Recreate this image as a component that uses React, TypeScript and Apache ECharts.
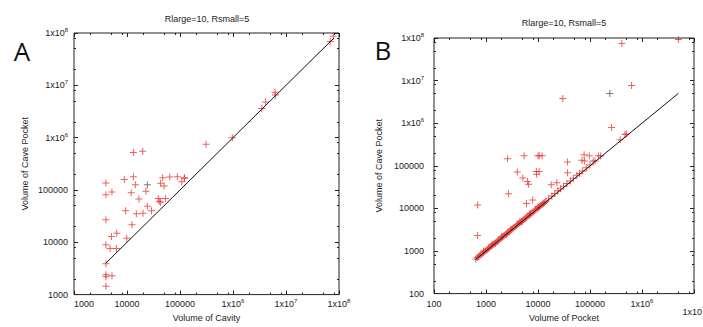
import React, { useEffect, useRef } from "react";
import * as echarts from "echarts";

// ---------- data ----------
const titleText = "Rlarge=10, Rsmall=5";
const panelLetters = ["A", "B"];
const axisNamesA = { x: "Volume of Cavity", y: "Volume of Cave Pocket" };
const axisNamesB = { x: "Volume of Pocket", y: "Volume of Cave Pocket" };

const aRedPoints: number[][] = [
  [78000000, 87000000], [68000000, 69000000], [6200000, 7400000], [6300000, 6500000],
  [4100000, 4800000], [3500000, 3600000], [970000, 1000000], [310000, 750000],
  [13200, 520000], [19800, 550000], [4000, 136000], [8900, 159000], [13200, 179000],
  [14400, 126000], [47000, 171000], [64000, 176000], [89000, 178000],
  [122000, 171000], [120000, 168000], [108000, 144000], [43000, 134000], [50000, 119000],
  [4000, 81000], [5200, 91000], [12000, 88000], [22800, 95000], [16800, 67000],
  [39000, 69000], [40700, 61000], [43000, 58000], [53000, 69000], [24200, 49000],
  [29000, 40000], [9400, 40000], [15000, 35000], [20000, 36000], [4000, 27000],
  [12400, 21700], [6400, 14900], [5100, 12900], [9900, 12000], [4000, 9000],
  [4800, 7600], [6300, 7600], [4000, 3900], [4000, 2400], [4000, 2200], [5200, 2300],
  [4000, 1440],
];
const aDarkPoints: number[][] = [[24200, 126000]];
const aFitLine: number[][] = [[4000, 4000], [80000000, 80000000]];

const bRedPoints: number[][] = [
  [5000000, 92000000], [410000, 74000000], [630000, 7700000], [30000, 3800000],
  [260000, 790000], [470000, 540000], [500000, 560000], [380000, 410000],
  [2600, 147000], [5400, 172000], [10000, 172000], [10600, 172000], [12000, 172000],
  [37000, 123000], [77000, 181000], [97000, 172000], [145000, 172000],
  [70000, 135000], [78000, 129000], [115000, 130000],
  [4000, 72000], [9300, 73000], [10500, 73000], [5100, 52000], [6300, 43000],
  [6600, 37000], [9400, 63000], [37000, 69000], [18000, 36000], [23000, 40000],
  [2700, 22000], [6000, 13000], [7900, 15800], [690, 12000], [690, 2300],
];
const bDarkPoints: number[][] = [[240000, 5000000]];
const bDiagonalPoints: number[][] = [
  [640, 650], [680, 700], [720, 730], [760, 790], [800, 820], [850, 870], [900, 930],
  [950, 980], [1000, 1040], [1060, 1090], [1120, 1150], [1180, 1220], [1250, 1290],
  [1320, 1360], [1400, 1440], [1480, 1520], [1560, 1610], [1650, 1700], [1750, 1800],
  [1850, 1900], [1950, 2010], [2060, 2120], [2180, 2250], [2300, 2380], [2440, 2500],
  [2580, 2650], [2730, 2800], [2890, 2970], [3060, 3140], [3240, 3330], [3430, 3520],
  [3630, 3730], [3840, 3950], [4060, 4180], [4300, 4420], [4550, 4680], [4820, 4950],
  [5100, 5240], [5400, 5550], [5720, 5880], [6050, 6220], [6400, 6590], [6780, 6970],
  [7180, 7380], [7600, 7820], [8050, 8280], [8520, 8770], [9020, 9280], [9550, 9830],
  [10100, 10400], [10700, 11000], [11300, 11700], [12000, 12400], [12700, 13100],
  [13400, 13800], [14200, 14700],
  [900, 1000], [1300, 1450], [2000, 2200], [3000, 3300], [4500, 5000], [7000, 7600],
  [10000, 11000], [1500, 1480], [2500, 2450], [5000, 4950],
  [16000, 16800], [18500, 19500], [21000, 22500], [24000, 26000], [27000, 29000],
  [31000, 33000], [36000, 38500], [42000, 44000], [48000, 51000], [56000, 60000],
  [63000, 66000], [72000, 76000], [85000, 90000], [100000, 105000], [125000, 130000],
  [160000, 170000],
];
const bFitLine: number[][] = [[620, 620], [5000000, 5000000]];

// axis ranges (decades)
const aXRange = [1000, 100000000];
const aYRange = [1000, 100000000];
const bXRange = [100, 10000000];
const bYRange = [100, 100000000];

// ---------- helpers ----------
const TXT = "#222";
const FONT = "Liberation Sans, Arial, sans-serif";
const PLUS = "path://M3,0H4V3H7V4H4V7H3V4H0V3H3Z";
const RED = "#e83a36";

function majorTicks(min: number, max: number) {
  const out: number[] = [];
  for (let e = Math.round(Math.log10(min)); e <= Math.round(Math.log10(max)); e++) out.push(Math.pow(10, e));
  return out;
}
function minorTicks(min: number, max: number) {
  const out: number[] = [];
  for (let e = Math.round(Math.log10(min)); e < Math.round(Math.log10(max)); e++) {
    [2, 5, 8].forEach((m) => out.push(m * Math.pow(10, e)));
  }
  return out;
}

function fmt(v: number) {
  const e = Math.round(Math.log10(v));
  if (e < 6) return "{b|" + Math.round(v) + "}";
  return "{b|1x10}{s|" + e + "}";
}
const rich = {
  b: { fontSize: 9, lineHeight: 12, color: TXT, fontFamily: FONT },
  s: { fontSize: 6, lineHeight: 6, verticalAlign: "top", color: TXT, fontFamily: FONT },
};
const richFill = {
  b: { fontSize: 9, lineHeight: 12, fill: TXT, fontFamily: FONT },
  s: { fontSize: 6, lineHeight: 6, verticalAlign: "top", fill: TXT, fontFamily: FONT },
};

function buildAxes(
  dim: "x" | "y",
  grid: number,
  range: number[],
  name: string,
  nameGap: number,
  labelMargin: number,
  alignMin?: string,
  dropMaxLabel?: boolean
) {
  const majors = majorTicks(range[0], range[1]);
  const minors = minorTicks(range[0], range[1]);
  const labelValues = dropMaxLabel ? majors.slice(0, -1) : majors;
  const base = {
    type: "log",
    logBase: 10,
    gridIndex: grid,
    min: range[0],
    max: range[1],
    splitLine: { show: false },
    axisLine: { show: false },
  };
  const mainPos = dim === "x" ? "bottom" : "left";
  const otherPos = dim === "x" ? "top" : "right";
  const main: any = {
    ...base,
    position: mainPos,
    name,
    nameLocation: "middle",
    nameGap,
    nameTextStyle: { fontSize: 9, color: TXT, fontFamily: FONT },
    axisTick: { show: true, inside: true, length: 4, lineStyle: { color: "#222" }, customValues: majors },
    axisLabel: {
      show: true,
      margin: labelMargin,
      customValues: labelValues,
      formatter: fmt,
      rich,
      showMinLabel: true,
      showMaxLabel: true,
      hideOverlap: false,
      ...(alignMin ? { alignMinLabel: alignMin } : {}),
    },
  };
  const mk = (pos: string, ticks: number[], len: number) => ({
    ...base,
    position: pos,
    axisTick: { show: true, inside: true, length: len, lineStyle: { color: "#222" }, customValues: ticks },
    axisLabel: { show: false },
  });
  return [main, mk(mainPos, minors, 2), mk(otherPos, majors, 4), mk(otherPos, minors, 2)];
}

function scatter(data: number[][], idx: number, color: string) {
  return {
    type: "scatter",
    xAxisIndex: idx,
    yAxisIndex: idx,
    data,
    symbol: PLUS,
    symbolSize: 7,
    itemStyle: { color },
    silent: true,
  };
}
function fit(data: number[][], idx: number) {
  return {
    type: "line",
    xAxisIndex: idx,
    yAxisIndex: idx,
    data,
    symbol: "none",
    lineStyle: { color: "#111", width: 1 },
    z: 5,
    silent: true,
  };
}

export default function App() {
  const ref = useRef<HTMLDivElement>(null);
  useEffect(() => {
    if (!ref.current) return;
    const chart = echarts.init(ref.current, undefined, { renderer: "svg" });
    const option: any = {
      animation: false,
      backgroundColor: "#fff",
      grid: [
        { left: 74, top: 33, width: 265, height: 266, show: true, borderColor: "#222", borderWidth: 1, backgroundColor: "transparent" },
        { left: 434, top: 38, width: 260, height: 264, show: true, borderColor: "#222", borderWidth: 1, backgroundColor: "transparent" },
      ],
      xAxis: [
        ...buildAxes("x", 0, aXRange, axisNamesA.x, 17, 3, "left"),
        ...buildAxes("x", 1, bXRange, axisNamesB.x, 17, 4, undefined, true),
      ],
      yAxis: [
        ...buildAxes("y", 0, aYRange, axisNamesA.y, 45, 6),
        ...buildAxes("y", 1, bYRange, axisNamesB.y, 51, 10),
      ],
      series: [
        scatter(aRedPoints, 0, RED),
        scatter(aDarkPoints, 0, "#555"),
        fit(aFitLine, 0),
        scatter(bDiagonalPoints, 4, RED),
        scatter(bRedPoints, 4, RED),
        scatter(bDarkPoints, 4, "#555"),
        fit(bFitLine, 4),
      ],
      graphic: [
        { type: "text", x: 207, y: 19, style: { text: titleText, fontSize: 9, fontFamily: FONT, fill: TXT, align: "center", verticalAlign: "middle" } },
        { type: "text", x: 564, y: 23, style: { text: titleText, fontSize: 9, fontFamily: FONT, fill: TXT, align: "center", verticalAlign: "middle" } },
        { type: "text", x: 22, y: 51, style: { text: panelLetters[0], fontSize: 26, fontFamily: "Open Sans, sans-serif", fill: "#111", align: "center", verticalAlign: "middle" } },
        { type: "text", x: 383, y: 50, style: { text: panelLetters[1], fontSize: 26, fontFamily: "Open Sans, sans-serif", fill: "#111", align: "center", verticalAlign: "middle" } },
        { type: "text", x: 694, y: 312, style: { text: fmt(bXRange[1]), rich: richFill, align: "center", verticalAlign: "middle" } },
      ],
    };
    chart.setOption(option);
    return () => chart.dispose();
  }, []);
  return <div ref={ref} style={{ position: "absolute", left: 0, top: 0, width: 703, height: 327 }} />;
}
